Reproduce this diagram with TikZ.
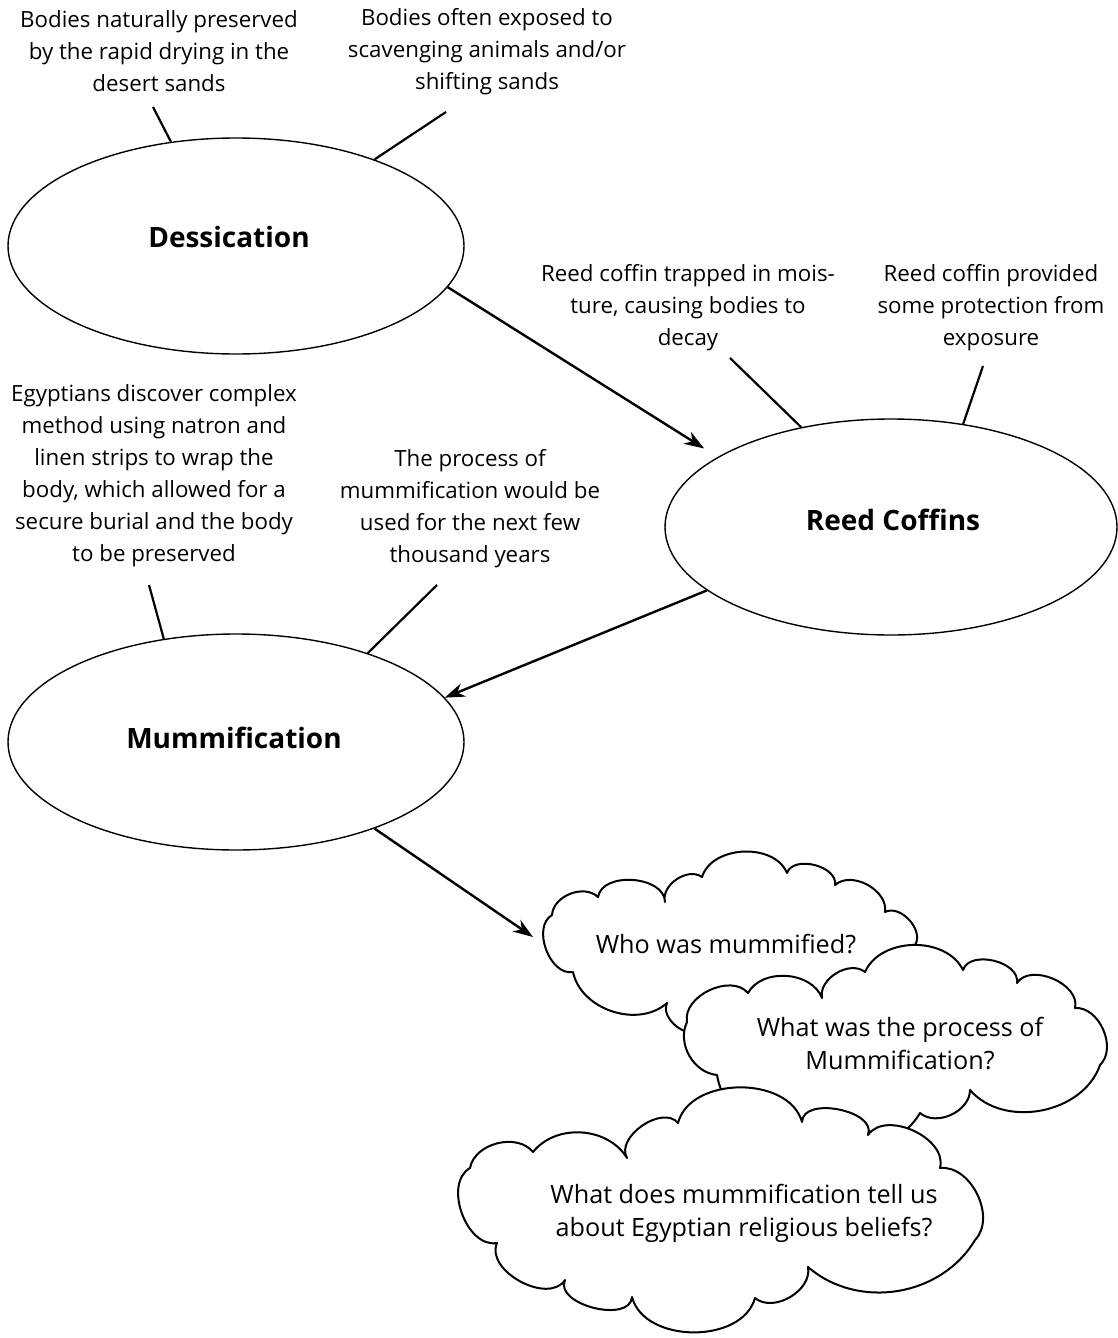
\documentclass[tikz,border=0pt]{standalone}
\usepackage{fontspec}
\setmainfont{Open Sans}
\usetikzlibrary{shapes.geometric,arrows.meta}
\begin{document}
\begin{tikzpicture}[x=0.5pt,y=-0.5pt,
  lbl/.style={align=center,font=\fontsize{11.15}{16}\selectfont,inner sep=0pt},
  ttl/.style={font=\fontsize{14}{16}\selectfont\bfseries,inner sep=0pt},
  cq/.style={align=center,font=\fontsize{12.6}{16.5}\selectfont,inner sep=0pt},
  oval/.style={ellipse,draw,line width=0.7pt,minimum height=108pt,inner sep=0pt},
  tick/.style={line width=1.1pt},
  arr/.style={line width=1.2pt,-{Stealth[length=10pt,width=7pt]}},
  cloudline/.style={draw,fill=white,line width=1pt,line join=round}]
\useasboundingbox (0,0) rectangle (1118,1338);

% ovals
\node[oval,minimum width=228pt] (des) at (236,246) {};
\node[oval,minimum width=226pt] (reed) at (891,527) {};
\node[oval,minimum width=228pt] (mum) at (236,742) {};
\node[ttl] (destext) at (229,237) {Dessication};
\node[ttl] (reedtext) at (893,520) {Reed Coffins};
\node[ttl] (mumtext) at (234,738) {Mummification};

% labels
\node[lbl] (l1) at (159,51) {Bodies naturally preserved\\by the rapid drying in the\\desert sands};
\node[lbl] (l2) at (487,52) {Bodies often exposed to\\scavenging animals and/or\\shifting sands};
\node[lbl] (l3) at (688,308) {Reed coffin trapped in mois-\\ture, causing bodies to\\decay};
\node[lbl] (l4) at (991,308) {Reed coffin provided\\some protection from\\exposure};
\node[lbl] (l5) at (154,476) {Egyptians discover complex\\method using natron and\\linen strips to wrap the\\body, which allowed for a\\secure burial and the body\\to be preserved};
\node[lbl] (l6) at (470,509) {The process of\\mummification would be\\used for the next few\\thousand years};

% tick line ends near labels
\coordinate (t1) at (153,107);
\coordinate (t2) at (446,112);
\coordinate (t3) at (730,358);
\coordinate (t4) at (983,366);
\coordinate (t5) at (149,585);
\coordinate (t6) at (437,585);

\draw[tick] (t1) -- (des.122.7);
\draw[tick] (t2) -- (des.32);
\draw[tick] (t3) -- (reed.132.6);
\draw[tick] (t4) -- (reed.55.3);
\draw[tick] (t5) -- (mum.125.8);
\draw[tick] (t6) -- (mum.34);

% arrows
\draw[arr,shorten >=8pt] (des.-11.3) -- (reed.158.8);
\draw[arr] (reed.199.6) -- (mum.12.95);
\coordinate (c1tip) at (533,937);
\draw[arr] (mum.-32.5) -- (c1tip);

% cloud 1
\draw[cloudline] (573,972) to[bend left=80] (552,915) to[bend left=65] (598,897)
  to[bend left=85] (665,902) to[bend left=70] (702,877) to[bend left=70] (787,873)
  to[bend left=85] (835,885) to[bend left=70] (885,912) to[bend left=75] (915,945)
  to[bend left=80] (900,1000) to[bend left=70] (840,1015) to[bend left=70] (760,1025)
  to[bend left=70] (700,1030) to[bend left=75] (667,1003) to[bend left=60] (573,972) -- cycle;
\node[cq] (q1) at (726,944) {Who was mummified?};

% cloud 2
\draw[cloudline] (687,1022) to[bend left=75] (748,993) to[bend left=65] (822,998)
  to[bend left=70] (865,972) to[bend left=65] (963,970) to[bend left=85] (1017,983)
  to[bend left=80] (1075,1008) to[bend left=70] (1100,1065) to[bend left=60] (970,1090)
  to[bend left=65] (920,1113) to[bend left=70] (717,1075) to[bend left=55] (687,1022) -- cycle;
\node[cq] (q2) at (900,1044) {What was the process of\\Mummification?};

% cloud 3
\draw[cloudline] (497,1243) to[bend left=80] (470,1168) to[bend left=65] (533,1152)
  to[bend left=55] (627,1158) to[bend left=85] (678,1123) to[bend left=75] (802,1122)
  to[bend left=100] (868,1135) to[bend left=80] (940,1168) to[bend left=70] (975,1240)
  to[bend left=50] (808,1267) to[bend left=70] (755,1298) to[bend left=75] (632,1297)
  to[bend left=100] (565,1280) to[bend left=85] (497,1243) -- cycle;
\node[cq] (q3) at (744,1213) {What does mummification tell us\\about Egyptian religious beliefs?};
\end{tikzpicture}
\end{document}
